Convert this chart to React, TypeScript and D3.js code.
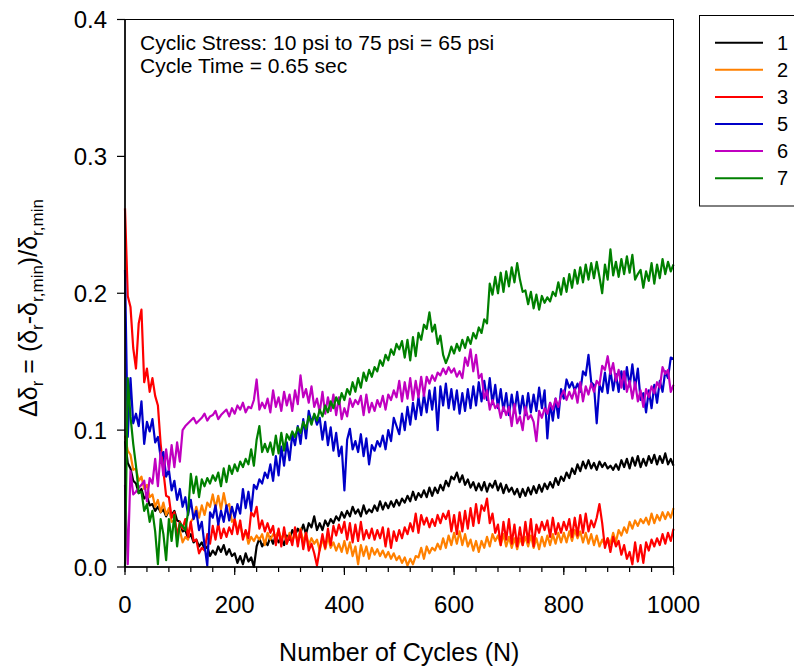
import React from 'react';
import * as d3 from 'd3';

// Cycle count at each sample (every 5 cycles, 0..1000)
const cycles: number[] = d3.range(0, 1001, 5);

// Relative change in resilient deflection for each test
const test1 = [
  0.092,0.076,0.072,0.063,0.061,0.054,0.057,0.050,0.052,0.045,
  0.046,0.041,0.044,0.040,0.042,0.037,0.041,0.038,0.041,0.034,
  0.033,0.026,0.027,0.021,0.024,0.018,0.020,0.015,0.018,0.013,
  0.015,0.008,0.012,0.009,0.015,0.011,0.016,0.009,0.013,0.008,
  0.010,0.003,0.008,0.002,0.010,0.004,0.007,0.000,0.015,0.021,
  0.015,0.019,0.016,0.022,0.017,0.023,0.018,0.021,0.016,0.023,
  0.020,0.027,0.023,0.028,0.025,0.031,0.024,0.032,0.029,0.037,
  0.027,0.032,0.027,0.034,0.030,0.035,0.032,0.037,0.034,0.040,
  0.036,0.041,0.037,0.044,0.039,0.042,0.037,0.045,0.039,0.042,
  0.040,0.045,0.041,0.048,0.042,0.047,0.043,0.048,0.044,0.049,
  0.045,0.050,0.047,0.052,0.048,0.055,0.049,0.054,0.051,0.056,
  0.051,0.058,0.052,0.058,0.054,0.060,0.056,0.063,0.059,0.066,
  0.064,0.069,0.062,0.067,0.060,0.064,0.058,0.062,0.056,0.061,
  0.056,0.062,0.055,0.061,0.058,0.063,0.056,0.061,0.054,0.060,
  0.055,0.058,0.053,0.057,0.051,0.057,0.052,0.058,0.053,0.059,
  0.054,0.060,0.055,0.061,0.057,0.062,0.058,0.065,0.060,0.066,
  0.063,0.069,0.065,0.072,0.068,0.075,0.070,0.077,0.072,0.078,
  0.072,0.076,0.071,0.077,0.073,0.076,0.072,0.074,0.071,0.075,
  0.071,0.078,0.073,0.079,0.072,0.080,0.074,0.081,0.073,0.079,
  0.074,0.081,0.076,0.082,0.075,0.081,0.076,0.083,0.075,0.079,
  0.074,
];

const test2 = [
  0.096,0.085,0.082,0.071,0.072,0.063,0.066,0.057,0.060,0.051,
  0.053,0.044,0.049,0.040,0.047,0.038,0.043,0.033,0.034,0.025,
  0.027,0.018,0.022,0.020,0.033,0.036,0.044,0.036,0.045,0.038,
  0.047,0.044,0.053,0.043,0.052,0.042,0.054,0.044,0.046,0.033,
  0.035,0.027,0.031,0.022,0.026,0.017,0.022,0.019,0.023,0.020,
  0.024,0.016,0.025,0.020,0.024,0.022,0.027,0.020,0.025,0.017,
  0.025,0.019,0.024,0.019,0.028,0.018,0.025,0.016,0.021,0.017,
  0.020,0.012,0.021,0.013,0.022,0.014,0.018,0.012,0.017,0.011,
  0.019,0.010,0.018,0.008,0.015,0.002,0.016,0.008,0.015,0.006,
  0.014,0.009,0.013,0.008,0.012,0.007,0.011,0.006,0.010,0.005,
  0.008,0.003,0.007,0.001,0.006,0.002,0.008,0.007,0.014,0.006,
  0.015,0.010,0.014,0.012,0.017,0.013,0.021,0.014,0.023,0.016,
  0.025,0.017,0.026,0.016,0.024,0.015,0.020,0.012,0.019,0.011,
  0.019,0.014,0.022,0.015,0.024,0.019,0.023,0.016,0.024,0.015,
  0.022,0.014,0.021,0.013,0.021,0.016,0.022,0.015,0.023,0.014,
  0.021,0.013,0.022,0.015,0.023,0.016,0.024,0.017,0.025,0.018,
  0.025,0.018,0.026,0.019,0.027,0.021,0.026,0.018,0.025,0.017,
  0.024,0.016,0.023,0.015,0.020,0.016,0.021,0.017,0.025,0.018,
  0.027,0.023,0.029,0.025,0.033,0.028,0.034,0.030,0.035,0.032,
  0.036,0.031,0.039,0.032,0.038,0.034,0.040,0.035,0.040,0.036,
  0.043,
];

const test3 = [
  0.262,0.198,0.190,0.160,0.145,0.178,0.188,0.135,0.145,0.128,
  0.138,0.125,0.118,0.090,0.070,0.052,0.051,0.036,0.040,0.022,
  0.033,0.028,0.035,0.022,0.033,0.019,0.020,0.010,0.014,0.012,
  0.024,0.017,0.030,0.020,0.032,0.021,0.028,0.022,0.029,0.024,
  0.035,0.024,0.034,0.020,0.027,0.021,0.040,0.037,0.044,0.028,
  0.034,0.026,0.032,0.025,0.030,0.016,0.028,0.015,0.029,0.017,
  0.023,0.016,0.029,0.015,0.027,0.013,0.025,0.012,0.017,0.010,
  0.001,0.013,0.024,0.014,0.028,0.016,0.030,0.023,0.031,0.025,
  0.033,0.020,0.032,0.018,0.031,0.019,0.033,0.020,0.027,0.021,
  0.028,0.020,0.027,0.021,0.029,0.015,0.028,0.014,0.026,0.019,
  0.027,0.021,0.029,0.024,0.032,0.026,0.039,0.025,0.038,0.031,
  0.036,0.029,0.035,0.030,0.038,0.032,0.039,0.035,0.041,0.026,
  0.038,0.024,0.040,0.026,0.041,0.028,0.043,0.030,0.046,0.032,
  0.045,0.041,0.050,0.032,0.039,0.025,0.031,0.016,0.033,0.020,
  0.035,0.017,0.031,0.015,0.029,0.016,0.033,0.018,0.035,0.015,
  0.031,0.025,0.033,0.027,0.034,0.022,0.036,0.024,0.032,0.025,
  0.033,0.027,0.035,0.022,0.036,0.023,0.038,0.025,0.039,0.026,
  0.034,0.029,0.036,0.046,0.032,0.014,0.021,0.011,0.022,0.015,
  0.019,0.009,0.016,0.006,0.011,0.002,0.018,0.004,0.016,0.003,
  0.018,0.012,0.020,0.015,0.021,0.016,0.024,0.017,0.025,0.019,
  0.028,
];

const test5 = [
  0.217,0.095,0.138,0.105,0.112,0.103,0.121,0.090,0.106,0.099,
  0.108,0.091,0.095,0.080,0.084,0.066,0.071,0.056,0.063,0.049,
  0.057,0.044,0.051,0.038,0.049,0.035,0.041,0.027,0.033,0.016,
  0.001,0.040,0.036,0.045,0.031,0.041,0.033,0.045,0.034,0.044,
  0.036,0.046,0.039,0.057,0.043,0.055,0.041,0.060,0.057,0.064,
  0.061,0.069,0.065,0.075,0.063,0.081,0.067,0.088,0.074,0.091,
  0.078,0.097,0.089,0.103,0.090,0.108,0.094,0.114,0.106,0.111,
  0.104,0.109,0.093,0.106,0.089,0.102,0.085,0.098,0.081,0.088,
  0.056,0.093,0.101,0.086,0.092,0.084,0.097,0.081,0.094,0.075,
  0.089,0.085,0.092,0.088,0.096,0.086,0.100,0.092,0.109,0.103,
  0.097,0.112,0.100,0.117,0.104,0.120,0.108,0.124,0.111,0.126,
  0.113,0.129,0.115,0.131,0.100,0.132,0.118,0.134,0.116,0.130,
  0.115,0.129,0.112,0.127,0.114,0.130,0.116,0.132,0.118,0.135,
  0.121,0.136,0.122,0.138,0.119,0.133,0.116,0.130,0.114,0.127,
  0.111,0.126,0.113,0.128,0.112,0.125,0.111,0.127,0.113,0.126,
  0.114,0.131,0.116,0.129,0.094,0.120,0.107,0.123,0.109,0.130,
  0.123,0.137,0.131,0.135,0.129,0.134,0.128,0.143,0.140,0.155,
  0.135,0.133,0.105,0.133,0.128,0.142,0.127,0.144,0.129,0.141,
  0.128,0.143,0.130,0.146,0.132,0.148,0.131,0.145,0.122,0.127,
  0.113,0.129,0.116,0.133,0.120,0.136,0.128,0.143,0.138,0.153,
  0.152,
];

const test6 = [
  0.060,0.002,0.070,0.053,0.055,0.058,0.060,0.063,0.048,0.065,
  0.061,0.079,0.059,0.084,0.067,0.086,0.071,0.089,0.073,0.091,
  0.077,0.100,0.103,0.105,0.107,0.109,0.105,0.107,0.109,0.112,
  0.107,0.110,0.111,0.114,0.108,0.111,0.113,0.115,0.110,0.116,
  0.112,0.118,0.115,0.120,0.113,0.117,0.116,0.122,0.137,0.115,
  0.120,0.116,0.123,0.113,0.129,0.117,0.124,0.114,0.128,0.118,
  0.126,0.114,0.129,0.119,0.140,0.124,0.130,0.120,0.132,0.117,
  0.123,0.113,0.128,0.112,0.124,0.114,0.126,0.111,0.124,0.108,
  0.116,0.110,0.123,0.117,0.122,0.119,0.125,0.111,0.126,0.113,
  0.120,0.114,0.122,0.117,0.125,0.115,0.126,0.122,0.129,0.124,
  0.136,0.121,0.135,0.123,0.138,0.122,0.136,0.124,0.139,0.125,
  0.139,0.134,0.140,0.136,0.142,0.140,0.145,0.141,0.146,0.142,
  0.145,0.139,0.143,0.138,0.153,0.147,0.159,0.143,0.155,0.138,
  0.141,0.123,0.129,0.115,0.122,0.116,0.119,0.109,0.117,0.111,
  0.117,0.103,0.119,0.105,0.110,0.100,0.117,0.108,0.111,0.106,
  0.092,0.114,0.109,0.116,0.112,0.120,0.115,0.123,0.117,0.125,
  0.129,0.122,0.128,0.123,0.130,0.120,0.135,0.121,0.132,0.126,
  0.134,0.128,0.136,0.133,0.147,0.144,0.154,0.141,0.149,0.136,
  0.144,0.131,0.143,0.128,0.136,0.123,0.135,0.121,0.129,0.117,
  0.130,0.124,0.132,0.127,0.135,0.131,0.146,0.141,0.144,0.128,
  0.133,
];

const test7 = [
  0.000,0.138,0.110,0.090,0.074,0.054,0.055,0.041,0.046,0.033,
  0.041,0.026,0.002,0.035,0.024,0.005,0.035,0.019,0.038,0.015,
  0.032,0.030,0.027,0.040,0.068,0.054,0.066,0.051,0.064,0.059,
  0.065,0.061,0.067,0.063,0.069,0.059,0.072,0.062,0.074,0.068,
  0.075,0.070,0.077,0.073,0.079,0.075,0.086,0.074,0.093,0.103,
  0.084,0.090,0.084,0.091,0.082,0.096,0.083,0.098,0.085,0.097,
  0.093,0.099,0.095,0.102,0.098,0.106,0.101,0.110,0.104,0.112,
  0.107,0.115,0.110,0.118,0.113,0.121,0.116,0.124,0.119,0.127,
  0.122,0.130,0.126,0.135,0.128,0.138,0.131,0.142,0.136,0.144,
  0.139,0.146,0.143,0.151,0.147,0.155,0.151,0.159,0.155,0.163,
  0.159,0.165,0.153,0.166,0.151,0.168,0.154,0.171,0.166,0.177,
  0.174,0.186,0.172,0.177,0.163,0.169,0.155,0.149,0.154,0.161,
  0.156,0.163,0.158,0.166,0.160,0.168,0.163,0.171,0.167,0.175,
  0.171,0.181,0.178,0.207,0.199,0.212,0.200,0.215,0.201,0.216,
  0.205,0.219,0.208,0.222,0.210,0.201,0.202,0.192,0.201,0.189,
  0.199,0.188,0.198,0.193,0.197,0.194,0.201,0.198,0.208,0.199,
  0.211,0.201,0.214,0.204,0.217,0.207,0.219,0.208,0.221,0.210,
  0.222,0.211,0.223,0.212,0.200,0.221,0.210,0.232,0.213,0.223,
  0.212,0.225,0.214,0.227,0.215,0.228,0.210,0.214,0.217,0.204,
  0.216,0.209,0.222,0.207,0.221,0.211,0.225,0.214,0.223,0.216,
  0.221,
];

const seriesLabels = ['1', '2', '3', '5', '6', '7'];
const seriesValues = [test1, test2, test3, test5, test6, test7];
const seriesColors = ['#000000', '#FF8000', '#FF0000', '#0000C8', '#C000C0', '#008000'];

const xMajorTicks = [0, 200, 400, 600, 800, 1000];
const xMinorTicks = d3.range(0, 1001, 40);
const yTicks = [0, 0.1, 0.2, 0.3, 0.4];
const noteLines = ['Cyclic Stress: 10 psi to 75 psi = 65 psi', 'Cycle Time = 0.65 sec'];

const FONT = '"Liberation Sans", Arial, Helvetica, sans-serif';

export default function App() {
  const width = 794;
  const height = 671;
  const x = d3.scaleLinear().domain([0, 1000]).range([125, 673.5]);
  const y = d3.scaleLinear().domain([0, 0.4]).range([567, 19.5]);
  const [x0, x1] = x.range();
  const [y0, y1] = y.range();

  const lineGen = d3
    .line<number>()
    .x((_, i) => x(cycles[i]))
    .y((d) => y(d));

  const legendX = 699.5;
  const legendY = 15.5;
  const rowGap = 27.1;

  return (
    <svg
      width={width}
      height={height}
      style={{ position: 'absolute', left: 0, top: 0, background: '#fff' }}
      fontFamily={FONT}
    >
      <rect x={0} y={0} width={width} height={height} fill="#fff" />

      {/* data lines */}
      <g fill="none" strokeWidth={2.2} strokeLinejoin="round">
        {seriesValues.map((vals, k) => (
          <path key={seriesLabels[k]} d={lineGen(vals) || ''} stroke={seriesColors[k]} />
        ))}
      </g>

      {/* frame */}
      <rect x={x0} y={y1} width={x1 - x0} height={y0 - y1} fill="none" stroke="#000" strokeWidth={1} />
      <line x1={x0} x2={x0} y1={y1} y2={y0} stroke="#000" strokeWidth={1.5} />
      <line x1={x0} x2={x1} y1={y0} y2={y0} stroke="#000" strokeWidth={1.5} />

      {/* y axis */}
      {yTicks.map((t) => (
        <g key={'y' + t}>
          <line x1={x0 - 8} x2={x0} y1={y(t)} y2={y(t)} stroke="#000" strokeWidth={1.2} />
          <text x={107} y={y(t) + 8.5} fontSize={24} textAnchor="end" fill="#000">
            {t.toFixed(1)}
          </text>
        </g>
      ))}

      {/* x axis */}
      {xMinorTicks.map((t) => (
        <line key={'xm' + t} x1={x(t)} x2={x(t)} y1={y0} y2={y0 + 5} stroke="#000" strokeWidth={1.2} />
      ))}
      {xMajorTicks.map((t) => (
        <g key={'x' + t}>
          <line x1={x(t)} x2={x(t)} y1={y0} y2={y0 + 8} stroke="#000" strokeWidth={1.2} />
          <text x={x(t)} y={613} fontSize={24} textAnchor="middle" fill="#000">
            {t}
          </text>
        </g>
      ))}

      {/* axis titles */}
      <text x={(x0 + x1) / 2} y={661} fontSize={25} textAnchor="middle" fill="#000">
        Number of Cycles (N)
      </text>
      <text transform="translate(37,308) rotate(-90)" fontSize={25} textAnchor="middle" fill="#000">
        <tspan>Δδ</tspan>
        <tspan dy={6} fontSize={17}>r</tspan>
        <tspan dy={-6}> = (δ</tspan>
        <tspan dy={6} fontSize={17}>r</tspan>
        <tspan dy={-6}>-δ</tspan>
        <tspan dy={6} fontSize={17}>r,min</tspan>
        <tspan dy={-6}>)/δ</tspan>
        <tspan dy={6} fontSize={17}>r,min</tspan>
      </text>

      {/* test conditions */}
      {noteLines.map((s, i) => (
        <text key={s} x={140} y={50 + i * 23} fontSize={21} fill="#000">
          {s}
        </text>
      ))}

      {/* legend */}
      <rect x={legendX} y={legendY} width={120} height={190.5} fill="#fff" stroke="#000" strokeWidth={1} />
      {seriesLabels.map((lab, k) => {
        const ry = 42.7 + k * rowGap;
        return (
          <g key={'lg' + lab}>
            <line x1={715} x2={763} y1={ry} y2={ry} stroke={seriesColors[k]} strokeWidth={2} />
            <text x={777} y={ry + 7} fontSize={20} fill="#000">
              {lab}
            </text>
          </g>
        );
      })}
    </svg>
  );
}
